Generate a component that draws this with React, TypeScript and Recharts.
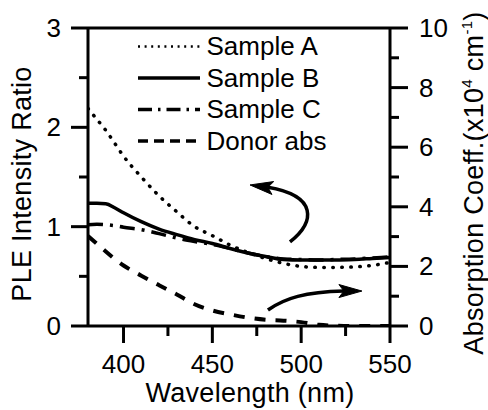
import React from "react";
import { LineChart, Line, XAxis, YAxis, ReferenceLine, Customized } from "recharts";

// ---- data ----
const WAVELENGTHS = [380, 385, 390, 395, 400, 410, 420, 430, 440, 450, 460, 470, 480, 490, 500, 510, 520, 530, 540, 550];
const SAMPLE_A = [2.19, 2.08, 1.97, 1.84, 1.71, 1.5, 1.31, 1.15, 1.0, 0.91, 0.815, 0.74, 0.68, 0.63, 0.6, 0.59, 0.59, 0.595, 0.61, 0.64];
const SAMPLE_B = [1.235, 1.235, 1.23, 1.19, 1.14, 1.05, 0.975, 0.92, 0.87, 0.83, 0.78, 0.735, 0.7, 0.67, 0.665, 0.665, 0.665, 0.67, 0.68, 0.69];
const SAMPLE_C = [1.02, 1.025, 1.02, 1.01, 0.995, 0.97, 0.93, 0.885, 0.85, 0.82, 0.78, 0.735, 0.7, 0.675, 0.67, 0.665, 0.67, 0.675, 0.685, 0.695];
const DONOR_ABS = [3.02, 2.76, 2.5, 2.25, 2.03, 1.69, 1.37, 1.06, 0.73, 0.52, 0.39, 0.28, 0.21, 0.18, 0.13, 0.04, 0.01, 0.0, 0.0, 0.0];

const X_TICKS = [400, 425, 450, 475, 500, 525, 550];
const LEFT_TICKS = [0, 0.5, 1, 1.5, 2, 2.5, 3];
const RIGHT_TICKS = [0, 1, 2, 3, 4, 5, 6, 7, 8, 9, 10];

const SERIES_NAMES = ["Sample A", "Sample B", "Sample C", "Donor abs"];

// annotation arrows, in data units (wavelength, PLE ratio)
const ARROW_LEFT = [[493.7, 0.846], [507.8, 1.047], [509.5, 1.309], [484.1, 1.389], [471.2, 1.42]];
const ARROW_RIGHT = [[481.3, 0.161], [490.9, 0.282], [502.2, 0.342], [521.9, 0.352], [534.2, 0.352]];

const data = WAVELENGTHS.map((wl, i) => ({
  wl,
  a: SAMPLE_A[i],
  b: SAMPLE_B[i],
  c: SAMPLE_C[i],
  d: DONOR_ABS[i],
}));

const FONT = "'Liberation Sans', Arial, Helvetica, sans-serif";
const W = 488;
const H = 410;
const M_TOP = 28;
const LEFT_W = 88;
const RIGHT_W = 98;
const X_H = 84;
const PLOT = { left: LEFT_W, top: M_TOP, width: W - LEFT_W - RIGHT_W, height: H - M_TOP - X_H };
const X_DOMAIN: [number, number] = [380, 550];
const L_DOMAIN: [number, number] = [0, 3];

const px = (wl: number) => PLOT.left + ((wl - X_DOMAIN[0]) / (X_DOMAIN[1] - X_DOMAIN[0])) * PLOT.width;
const py = (v: number) => PLOT.top + PLOT.height - ((v - L_DOMAIN[0]) / (L_DOMAIN[1] - L_DOMAIN[0])) * PLOT.height;

const LeftTick = (props: any) => {
  const { x, y, payload } = props;
  const major = Number.isInteger(payload.value);
  return (
    <g>
      <line x1={x} x2={x - (major ? 17 : 9)} y1={y} y2={y} stroke="#000" strokeWidth={3} />
      {major && (
        <text x={x - 27} y={y + 9} textAnchor="end" fontSize={26} fontFamily={FONT} fill="#000">
          {payload.value}
        </text>
      )}
    </g>
  );
};

const RightTick = (props: any) => {
  const { x, y, payload } = props;
  const major = payload.value % 2 === 0;
  return (
    <g>
      <line x1={x} x2={x + (major ? 18 : 9)} y1={y} y2={y} stroke="#000" strokeWidth={3} />
      {major && (
        <text x={x + 29} y={y + 9} textAnchor="start" fontSize={26} fontFamily={FONT} fill="#000">
          {payload.value}
        </text>
      )}
    </g>
  );
};

const BottomTick = (props: any) => {
  const { x, y, payload } = props;
  const major = payload.value % 50 === 0;
  return (
    <g>
      <line x1={x} x2={x} y1={y} y2={y + (major ? 17 : 10)} stroke="#000" strokeWidth={3} />
      {major && (
        <text x={x} y={y + 47} textAnchor="middle" fontSize={26} fontFamily={FONT} fill="#000">
          {payload.value}
        </text>
      )}
    </g>
  );
};

const arrowPath = (pts: number[][]) => {
  const p = pts.map(([a, b]) => [px(a), py(b)]);
  const [s, c1, c2, e, tip] = p;
  const dx = tip[0] - e[0];
  const dy = tip[1] - e[1];
  const len = Math.hypot(dx, dy) || 1;
  const ux = dx / len;
  const uy = dy / len;
  const nx = -uy;
  const ny = ux;
  const headLen = 23;
  const half = 6.5;
  const bx = tip[0] - ux * headLen;
  const by = tip[1] - uy * headLen;
  const notchX = tip[0] - ux * (headLen - 5);
  const notchY = tip[1] - uy * (headLen - 5);
  const head = `M${tip[0]},${tip[1]} L${bx + nx * half},${by + ny * half} L${notchX},${notchY} L${bx - nx * half},${by - ny * half} Z`;
  const curve = `M${s[0]},${s[1]} C${c1[0]},${c1[1]} ${c2[0]},${c2[1]} ${notchX},${notchY}`;
  return { curve, head };
};

const LEGEND_STYLES = [
  { strokeWidth: 2.5, dash: "2 4.6" },
  { strokeWidth: 3.5, dash: undefined },
  { strokeWidth: 3.5, dash: "14 6 2.5 6" },
  { strokeWidth: 3.5, dash: "10 6" },
];

const Overlay = () => {
  const a1 = arrowPath(ARROW_LEFT);
  const a2 = arrowPath(ARROW_RIGHT);
  return (
    <g>
      {/* legend */}
      {SERIES_NAMES.map((name, i) => {
        const base = 55 + i * 31.5;
        const ly = base - 8.5;
        const st = LEGEND_STYLES[i];
        return (
          <g key={name}>
            <line x1={138} x2={200} y1={ly} y2={ly} stroke="#000" strokeWidth={st.strokeWidth} strokeDasharray={st.dash} />
            <text x={206.5} y={base} fontSize={26} fontFamily={FONT} fill="#000">
              {name}
            </text>
          </g>
        );
      })}
      {/* arrows */}
      <path d={a1.curve} fill="none" stroke="#000" strokeWidth={3.5} />
      <path d={a1.head} fill="#000" stroke="#000" strokeWidth={1} strokeLinejoin="round" />
      <path d={a2.curve} fill="none" stroke="#000" strokeWidth={3.5} />
      <path d={a2.head} fill="#000" stroke="#000" strokeWidth={1} strokeLinejoin="round" />
      {/* axis titles */}
      <text x={250} y={402} textAnchor="middle" fontSize={27} letterSpacing={0.3} fontFamily={FONT} fill="#000">
        Wavelength (nm)
      </text>
      <text
        x={31}
        y={184}
        textAnchor="middle"
        fontSize={27}
        letterSpacing={0.3}
        fontFamily={FONT}
        fill="#000"
        transform="rotate(-90 31 184)"
      >
        PLE Intensity Ratio
      </text>
      <text
        x={483}
        y={183}
        textAnchor="middle"
        fontSize={27}
        letterSpacing={0.3}
        fontFamily={FONT}
        fill="#000"
        transform="rotate(-90 483 183)"
      >
        Absorption Coeff.(x10
        <tspan fontSize={15} dy={-11}>4</tspan>
        <tspan dy={11}> cm</tspan>
        <tspan fontSize={15} dy={-11}>-1</tspan>
        <tspan dy={11}>)</tspan>
      </text>
    </g>
  );
};

export default function App() {
  return (
    <div style={{ position: "absolute", left: 0, top: 0, width: W, height: H, background: "#fff" }}>
      <LineChart width={W} height={H} data={data} margin={{ top: M_TOP, right: 0, bottom: 0, left: 0 }}>
        <XAxis
          dataKey="wl"
          type="number"
          domain={X_DOMAIN}
          ticks={X_TICKS}
          interval={0}
          height={X_H}
          tickSize={0}
          tickMargin={0}
          tickLine={false}
          axisLine={{ stroke: "#000", strokeWidth: 3 }}
          tick={<BottomTick />}
          allowDataOverflow
        />
        <YAxis
          yAxisId="left"
          orientation="left"
          type="number"
          domain={L_DOMAIN}
          ticks={LEFT_TICKS}
          interval={0}
          width={LEFT_W}
          tickSize={0}
          tickMargin={0}
          tickLine={false}
          axisLine={{ stroke: "#000", strokeWidth: 3 }}
          tick={<LeftTick />}
          allowDataOverflow
        />
        <YAxis
          yAxisId="right"
          orientation="right"
          type="number"
          domain={[0, 10]}
          ticks={RIGHT_TICKS}
          interval={0}
          width={RIGHT_W}
          tickSize={0}
          tickMargin={0}
          tickLine={false}
          axisLine={{ stroke: "#000", strokeWidth: 3 }}
          tick={<RightTick />}
          allowDataOverflow
        />
        <ReferenceLine yAxisId="left" y={3} stroke="#000" strokeWidth={3} />
        <Line
          yAxisId="left"
          type="monotone"
          dataKey="a"
          name={SERIES_NAMES[0]}
          stroke="#000"
          strokeWidth={3.5}
          strokeDasharray="0.5 8.5"
          strokeLinecap="round"
          dot={false}
          activeDot={false}
          isAnimationActive={false}
        />
        <Line
          yAxisId="left"
          type="monotone"
          dataKey="b"
          name={SERIES_NAMES[1]}
          stroke="#000"
          strokeWidth={3.5}
          dot={false}
          activeDot={false}
          isAnimationActive={false}
        />
        <Line
          yAxisId="left"
          type="monotone"
          dataKey="c"
          name={SERIES_NAMES[2]}
          stroke="#000"
          strokeWidth={3.5}
          strokeDasharray="15 7 3 7"
          dot={false}
          activeDot={false}
          isAnimationActive={false}
        />
        <Line
          yAxisId="right"
          type="monotone"
          dataKey="d"
          name={SERIES_NAMES[3]}
          stroke="#000"
          strokeWidth={4}
          strokeDasharray="11 10"
          dot={false}
          activeDot={false}
          isAnimationActive={false}
        />
        <Customized component={<Overlay />} />
      </LineChart>
    </div>
  );
}
